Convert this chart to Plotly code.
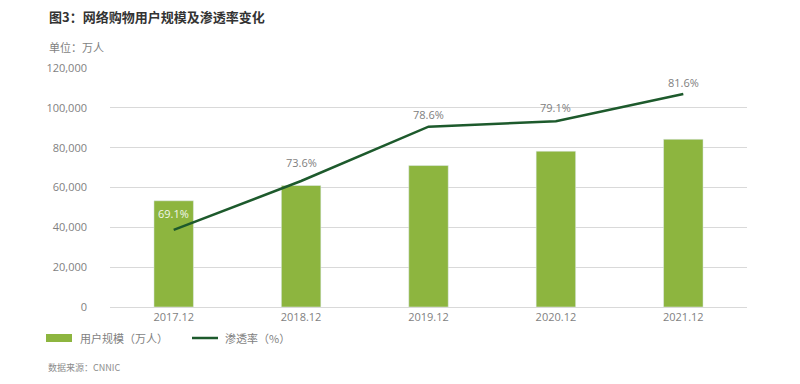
import plotly.graph_objects as go

categories = ["2017.12", "2018.12", "2019.12", "2020.12", "2021.12"]
users = [53332, 61011, 71027, 78241, 84210]
rate = [69.1, 73.6, 78.6, 79.1, 81.6]
rate_labels = ["69.1%", "73.6%", "78.6%", "79.1%", "81.6%"]
label_shift = [16, 18, 12, 14, 12]
y_ticks = [0, 20000, 40000, 60000, 80000, 100000, 120000]
y_tick_text = ["0", "20,000", "40,000", "60,000", "80,000", "100,000", "120,000"]

OFF = 8  # page body margin
W, H = 800 - OFF, 384 - OFF
L, R, T, B = 110 - OFF, 53, 68 - OFF, 77
PW, PH = W - L - R, H - T - B

def px(x):
    return (x - OFF - L) / PW

def py(y):
    return (H - B - (y - OFF)) / PH

BAR = "#8db53f"
LINE = "#1d5a2c"
FONT = "Open Sans, Noto Sans CJK SC, sans-serif"
CJK = "Noto Sans CJK SC, sans-serif"

fig = go.Figure()
fig.add_trace(go.Bar(
    x=categories, y=users, marker_color=BAR, width=0.31,
    name="用户规模（万人）", showlegend=False, hoverinfo="skip",
))
fig.add_trace(go.Scatter(
    x=categories, y=rate, yaxis="y2", mode="lines",
    line=dict(color=LINE, width=2.5),
    name="渗透率（%）", showlegend=False, hoverinfo="skip",
))

label_colors = ["#f2f6ea", "#808080", "#808080", "#808080", "#808080"]
for i, (v, t, s, col) in enumerate(zip(rate, rate_labels, label_shift, label_colors)):
    fig.add_annotation(x=i, y=v, xref="x", yref="y2", text=t, showarrow=False,
                       yshift=s, xanchor="center", yanchor="middle",
                       font=dict(size=11, family=FONT, color=col))

fig.update_layout(
    width=W, height=H,
    margin=dict(l=L, r=R, t=T, b=B, autoexpand=False),
    paper_bgcolor="white", plot_bgcolor="white",
    font=dict(family=FONT, size=11, color="#7f7f7f"),
    xaxis=dict(type="category", range=[-0.5, len(categories) - 0.5],
               showgrid=False, showline=False, zeroline=False,
               ticks="", tickfont=dict(size=11, color="#7f7f7f"),
               ticklabelstandoff=2),
    yaxis=dict(range=[0, 120000], tickvals=y_ticks, ticktext=y_tick_text,
               showgrid=True, gridcolor="#d9d9d9", gridwidth=1,
               zeroline=True, zerolinecolor="#d9d9d9", zerolinewidth=1,
               showline=False, ticks="", ticklabelstandoff=22,
               tickfont=dict(size=11, color="#7f7f7f")),
    yaxis2=dict(range=[62, 84], overlaying="y", side="right",
                visible=False, showgrid=False),
)

annots = [
    dict(x=px(47), y=py(16), text="<b>图3：网络购物用户规模及渗透率变化</b>",
         font=dict(size=13, color="#333333", family=CJK)),
    dict(x=px(47), y=py(47), text="单位：万人",
         font=dict(size=11, color="#7f7f7f", family=CJK)),
    dict(x=px(78), y=py(338), text="用户规模（万人）",
         font=dict(size=11, color="#7f7f7f", family=CJK)),
    dict(x=px(223), y=py(338), text="渗透率（%）",
         font=dict(size=11, color="#7f7f7f", family=CJK)),
    dict(x=px(46), y=py(367), text="数据来源：CNNIC",
         font=dict(size=9, color="#8c8c8c", family=CJK)),
]
for a in annots:
    fig.add_annotation(xref="paper", yref="paper", xanchor="left",
                       yanchor="middle", showarrow=False, **a)

fig.add_shape(type="rect", xref="paper", yref="paper",
              x0=px(46), x1=px(72), y0=py(342), y1=py(334),
              fillcolor=BAR, line=dict(width=0))
fig.add_shape(type="line", xref="paper", yref="paper",
              x0=px(192), x1=px(218), y0=py(338), y1=py(338),
              line=dict(color=LINE, width=2.5))

fig.write_html("out.html")
